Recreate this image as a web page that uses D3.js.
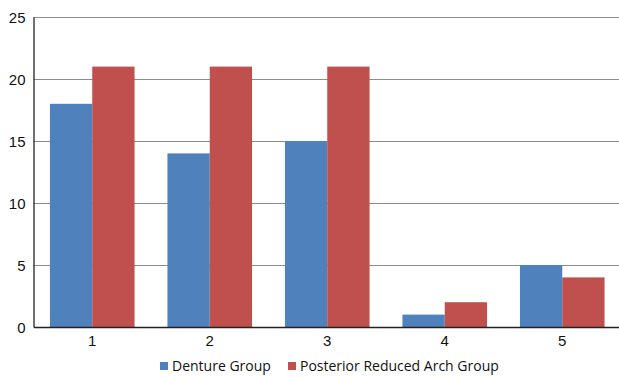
<!DOCTYPE html>
<html>
<head>
<meta charset="utf-8">
<script src="https://cdn.jsdelivr.net/npm/d3@7"></script>
<style>
  html, body { margin: 0; padding: 0; background: #fff; }
  svg { display: block; font-family: "Open Sans", "Liberation Sans", sans-serif; }
</style>
</head>
<body>
<svg id="chart" width="619" height="377"></svg>
<script>
// Chart data
const categories = ["1", "2", "3", "4", "5"];
const seriesNames = ["Denture Group", "Posterior Reduced Arch Group"];
const dentureGroup = [18, 14, 15, 1, 5];
const reducedArchGroup = [21, 21, 21, 2, 4];
const yTicks = [0, 5, 10, 15, 20, 25];
const colors = ["#4f81bd", "#c0504d"];

const svg = d3.select("#chart");
const margin = { left: 33.5, right: -2, top: 17, bottom: 50 };
const width = 619 - margin.left - margin.right;
const height = 377 - margin.top - margin.bottom;

const g = svg.append("g").attr("transform", `translate(${margin.left},${margin.top})`);

const x = d3.scaleBand().domain(categories).range([0, width])
  .paddingInner(0.28).paddingOuter(0.14);
const x1 = d3.scaleBand().domain(seriesNames).range([0, x.bandwidth()]);
const y = d3.scaleLinear().domain([0, 25]).range([height, 0]);

// Horizontal gridlines
g.append("g").selectAll("line").data(yTicks.filter(d => d > 0)).join("line")
  .attr("x1", 0).attr("x2", width)
  .attr("y1", d => Math.round(y(d)) + 0.5).attr("y2", d => Math.round(y(d)) + 0.5)
  .attr("stroke", "#8c8c8c").attr("stroke-width", 1.2);

// Bars
const rows = categories.map((c, i) => ({ cat: c, values: [dentureGroup[i], reducedArchGroup[i]] }));
g.append("g").selectAll("g").data(rows).join("g")
  .attr("transform", d => `translate(${x(d.cat)},0)`)
  .selectAll("rect").data(d => d.values.map((v, k) => ({ key: seriesNames[k], v, k })))
  .join("rect")
  .attr("x", d => x1(d.key))
  .attr("width", x1.bandwidth())
  .attr("y", d => y(d.v))
  .attr("height", d => y(0) - y(d.v))
  .attr("fill", d => colors[d.k]);

// Y axis
const yAxis = g.append("g").call(d3.axisLeft(y).tickValues(yTicks).tickSize(0).tickPadding(8));
yAxis.select(".domain").attr("stroke", "#222").attr("stroke-width", 1.3);
yAxis.selectAll("text").attr("font-size", 15).attr("fill", "#111").attr("dy", "0.35em");

// X axis
const xAxis = g.append("g").attr("transform", `translate(0,${height})`)
  .call(d3.axisBottom(x).tickSize(0).tickPadding(8));
xAxis.select(".domain").attr("stroke", "#222").attr("stroke-width", 1.6);
xAxis.selectAll("text").attr("font-size", 15).attr("fill", "#111");

// Legend
const legend = svg.append("g").attr("transform", "translate(160,366)");
const legendX = [0, 128];
seriesNames.forEach((name, k) => {
  const item = legend.append("g").attr("transform", `translate(${legendX[k]},0)`);
  item.append("rect").attr("x", 0).attr("y", -4).attr("width", 8).attr("height", 8).attr("fill", colors[k]);
  item.append("text").attr("x", 12).attr("y", 0).attr("dy", "0.35em")
    .attr("font-size", 14).attr("fill", "#111").text(name);
});
</script>
</body>
</html>
